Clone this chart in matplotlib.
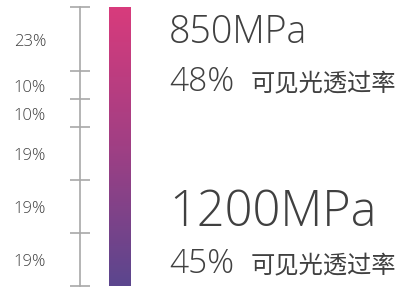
import numpy as np
import matplotlib.pyplot as plt
from matplotlib.colors import LinearSegmentedColormap
import matplotlib.transforms as mtransforms

# segment shares along the scale, top to bottom
segment_labels = ["23%", "10%", "10%", "19%", "19%", "19%"]
segment_values = [23, 10, 10, 19, 19, 19]

# the two annotated grades
strength_labels = ["850MPa", "1200MPa"]
transmission_labels = ["48%", "45%"]
transmission_text = "可见光透过率"

W, H = 399, 288
fig = plt.figure(figsize=(W / 100, H / 100), dpi=100)
fig.patch.set_facecolor("white")

num_font = ["Open Sans", "DejaVu Sans"]
cjk_font = ["Noto Sans CJK SC", "DejaVu Sans"]
text_color = "#404040"

# scale axis: left spine is the vertical ruler
ax = fig.add_axes([80 / W, 2 / H, (W - 80) / W, 279 / H])
edges = np.concatenate([[0], np.cumsum(segment_values)])
ax.set_xlim(0, W - 80)
for s in ["top", "right", "bottom"]:
    ax.spines[s].set_visible(False)
ax.spines["left"].set_color("#a8a8a8")
ax.spines["left"].set_linewidth(1.2)
ax.set_xticks([])
ax.set_yticks(edges)
ax.tick_params(axis="y", direction="inout", length=15, width=1.2,
               color="#a8a8a8", labelleft=False)
ax.patch.set_alpha(0)

# labels at segment middles (nudged a little below centre like the original)
mids = (edges[:-1] + edges[1:]) / 2
trans = mtransforms.blended_transform_factory(fig.transFigure, ax.transData)
trans = trans + mtransforms.ScaledTranslation(0, -3 / 100, fig.dpi_scale_trans)
for m, lab in zip(mids, segment_labels):
    ax.text(46 / W, m, lab, transform=trans, ha="right", va="center",
            fontsize=12, color=text_color, family=num_font, fontweight="light")

# gradient bar over the full scale
cmap = LinearSegmentedColormap.from_list("bar", ["#d83b7c", "#a03f84", "#5b468e"])
grad = np.linspace(0, 1, 256).reshape(-1, 1)
ax.imshow(grad, cmap=cmap, aspect="auto", extent=[29, 51, edges[-1], 0], zorder=0)
ax.set_ylim(edges[-1], 0)

# annotations
big_sizes = [27, 35]
big_base = [43, 226]
small_base = [91, 273]
for i in range(2):
    fig.text(169 / W, 1 - big_base[i] / H, strength_labels[i], ha="left", va="baseline",
             fontsize=big_sizes[i], color=text_color, family=num_font, fontweight="light")
    fig.text(169 / W, 1 - small_base[i] / H, transmission_labels[i], ha="left", va="baseline",
             fontsize=24, color=text_color, family=num_font, fontweight="light")
    fig.text(251 / W, 1 - (small_base[i] - 1) / H, transmission_text, ha="left", va="baseline",
             fontsize=17.5, color=text_color, family=cjk_font, fontweight="light")

fig.savefig("out.png", dpi=100)
